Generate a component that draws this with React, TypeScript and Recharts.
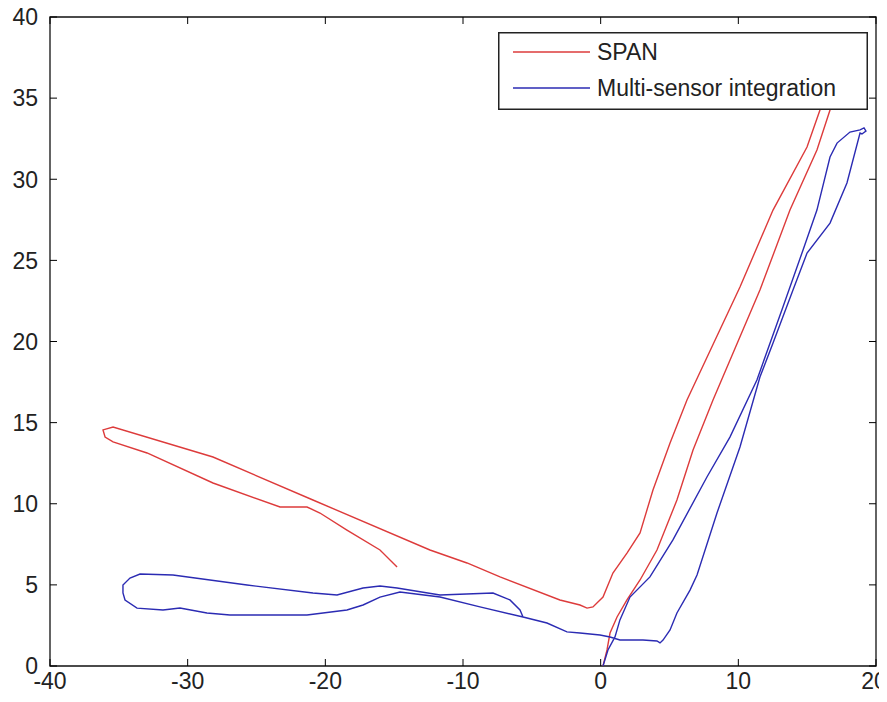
import { LineChart, Line, XAxis, YAxis, ReferenceArea, Legend } from 'recharts'

// SPAN trajectory (origin -> up the right leg -> back down -> out to the west -> back)
const spanX = [
  0.17, 0.46, 0.68, 1.19, 1.91, 2.86, 4.09, 5.54, 6.71, 8.16, 11.57, 13.75, 15.71, 16.66, 17.4,
  17.0, 16.4, 15.93, 14.99, 12.52, 10.12, 6.27, 5.04, 3.8, 2.86, 1.91, 0.89, 0.17, -0.56, -0.99,
  -1.5, -2.96, -7.31, -9.71, -12.4, -20.9, -28.16, -35.42, -36.15, -36.0, -35.42, -32.95, -28.16,
  -23.29, -21.33, -20.39, -18.43, -16.03, -14.79,
]
const spanY = [
  0, 0.99, 2.03, 3.02, 4.07, 5.3, 7.15, 10.23, 13.31, 16.39, 23.17, 28.1, 31.8, 34.27, 36.5,
  37.0, 36.5, 34.27, 31.99, 28.1, 23.36, 16.39, 13.74, 10.85, 8.2, 6.96, 5.73, 4.25, 3.64, 3.57,
  3.76, 4.07, 5.49, 6.35, 7.15, 10.23, 12.88, 14.73, 14.55, 14.11, 13.81, 13.13, 11.28,
  9.8, 9.8, 9.43, 8.38, 7.15, 6.1,
]

// multi-sensor integration trajectory
const multiX = [
  0.17, 0.53, 1.04, 1.4, 2.13, 3.58, 5.25, 7.72, 9.39, 11.35, 13.24, 14.7, 15.71, 16.66, 17.17,
  18.11, 18.84, 19.13, 19.27, 18.98, 18.84, 17.89, 16.66, 14.99, 13.97, 12.52, 11.57, 10.12, 8.45,
  7.0, 6.49, 5.54, 5.04, 4.53, 4.31, 4.09, 3.07, 1.4, 0.68, -0.05, -1.5, -2.45, -3.9, -5.64, -8.77,
  -11.67, -14.58, -16.03, -17.26, -18.43, -21.33, -26.93, -28.6, -30.56, -31.79, -33.68, -34.55,
  -34.7, -34.7, -34.19, -33.46, -31.07, -25.69, -20.9, -19.15, -17.26, -16.03, -14.79, -11.67,
  -7.82, -6.59, -5.86, -5.64,
]
const multiY = [
  0, 0.99, 1.79, 2.84, 4.25, 5.49, 7.77, 11.65, 14.11, 17.63, 22.13, 25.64, 28.1, 31.37, 32.23,
  32.91, 33.04, 33.16, 32.97, 32.79, 32.85, 29.77, 27.3, 25.45, 23.17, 19.91, 17.81, 13.5, 9.43,
  5.61, 4.68, 3.27, 2.22, 1.6, 1.42, 1.54, 1.6, 1.6, 1.79, 1.91, 2.03, 2.1, 2.65, 3.02, 3.64,
  4.25, 4.56, 4.25, 3.76, 3.45, 3.14, 3.14, 3.27, 3.57, 3.45, 3.57, 4.07,
  4.5, 4.99, 5.42, 5.67, 5.61, 4.99, 4.5, 4.38, 4.81, 4.93, 4.81, 4.38,
  4.5, 4.07, 3.45, 3.02,
]

const xTicks = [-40, -30, -20, -10, 0, 10, 20]
const yTicks = [0, 5, 10, 15, 20, 25, 30, 35, 40]
const seriesNames = ['SPAN', 'Multi-sensor integration']
const seriesColors = ['#dd3b3b', '#2b2bb3']

const toPoints = (xs: number[], ys: number[]) => xs.map((x, i) => ({ x, y: ys[i] }))
const spanData = toPoints(spanX, spanY)
const multiData = toPoints(multiX, multiY)

const W = 879
const H = 694
const LEFT = 42
const RIGHT = 868
const TOP = 9
const BOTTOM = 658
const FONT = '"Liberation Sans", Arial, sans-serif'
const TEXT = '#222'

function YTick({ y, payload }: any) {
  return (
    <g>
      <line x1={LEFT} x2={LEFT + 7} y1={y} y2={y} stroke="#000" />
      <line x1={RIGHT - 7} x2={RIGHT} y1={y} y2={y} stroke="#000" />
      <text x={LEFT - 12} y={y} dy="0.36em" textAnchor="end" fontSize={23} fontFamily={FONT} fill={TEXT}>
        {payload.value}
      </text>
    </g>
  )
}

function XTick({ x, payload }: any) {
  // keep the last label inside the page edge
  const tx = Math.min(x, W - 13)
  return (
    <g>
      <line x1={x} x2={x} y1={BOTTOM - 7} y2={BOTTOM} stroke="#000" />
      <line x1={x} x2={x} y1={TOP} y2={TOP + 7} stroke="#000" />
      <text x={tx} y={BOTTOM + 15} dy="0.36em" textAnchor="middle" fontSize={23} fontFamily={FONT} fill={TEXT}>
        {payload.value}
      </text>
    </g>
  )
}

// MATLAB-style boxed legend, entries in plotting order
function LegendBox() {
  return (
    <svg width={370} height={78} style={{ display: 'block' }}>
      <rect x={0.75} y={0.75} width={368.5} height={76.5} fill="#fff" stroke="#222" strokeWidth={1.5} />
      {seriesNames.map((name, i) => {
        const cy = 20 + 36 * i
        return (
          <g key={name}>
            <line x1={15} x2={92} y1={cy} y2={cy} stroke={seriesColors[i]} strokeWidth={1.5} />
            <text x={99} y={cy} dy="0.36em" fontSize={23} fontFamily={FONT} fill={TEXT}>
              {name}
            </text>
          </g>
        )
      })}
    </svg>
  )
}

export default function App() {
  return (
    <LineChart width={W} height={H} margin={{ top: TOP, right: W - RIGHT, left: 0, bottom: 0 }}>
      <XAxis
        dataKey="x"
        type="number"
        domain={[-40, 20]}
        ticks={xTicks}
        allowDataOverflow
        axisLine={false}
        tickLine={false}
        tick={<XTick />}
        height={H - BOTTOM}
        interval={0}
      />
      <YAxis
        dataKey="y"
        type="number"
        domain={[0, 40]}
        ticks={yTicks}
        allowDataOverflow
        axisLine={false}
        tickLine={false}
        tick={<YTick />}
        width={LEFT}
        interval={0}
      />
      <ReferenceArea x1={-40} x2={20} y1={0} y2={40} fill="none" stroke="#111" strokeWidth={1.3} />
      <Line
        data={spanData}
        dataKey="y"
        name={seriesNames[0]}
        stroke={seriesColors[0]}
        strokeWidth={1.4}
        dot={false}
        isAnimationActive={false}
      />
      <Line
        data={multiData}
        dataKey="y"
        name={seriesNames[1]}
        stroke={seriesColors[1]}
        strokeWidth={1.4}
        dot={false}
        isAnimationActive={false}
      />
      <Legend
        layout="vertical"
        align="center"
        verticalAlign="middle"
        wrapperStyle={{ top: 24, left: 490, width: 370 }}
        content={<LegendBox />}
      />
    </LineChart>
  )
}
